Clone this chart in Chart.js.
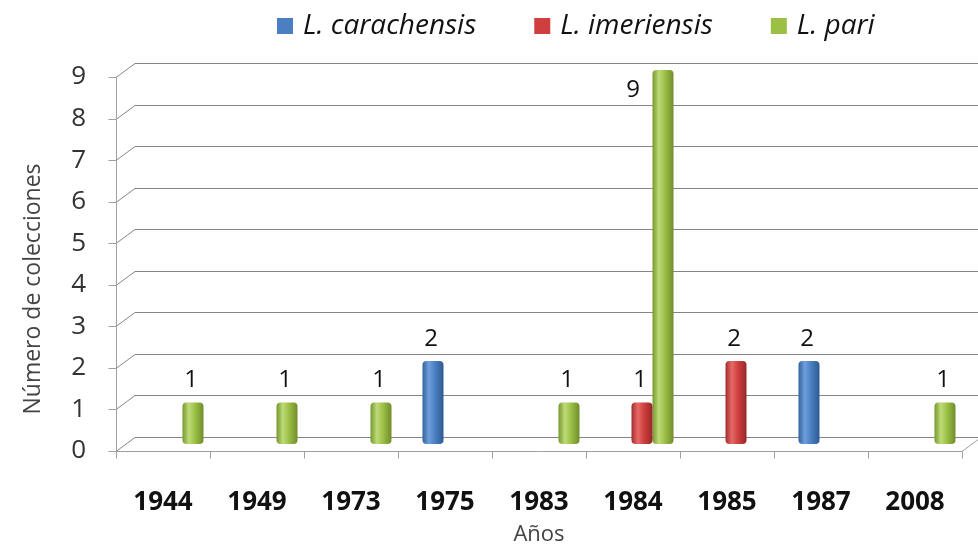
<!DOCTYPE html>
<html>
<head>
<meta charset="utf-8">
<script src="https://cdn.jsdelivr.net/npm/chart.js@4.4.1/dist/chart.umd.min.js"></script>
<style>
  html, body { margin: 0; padding: 0; background: #fff; }
  #wrap { width: 978px; height: 549px; }
</style>
</head>
<body>
<div id="wrap"><canvas id="chart"></canvas></div>
<script>
// Data
const years = ['1944', '1949', '1973', '1975', '1983', '1984', '1985', '1987', '2008'];
const carachensis = [null, null, null, 2, null, null, null, 2, null];
const imeriensis = [null, null, null, null, null, 1, 2, null, null];
const pari = [1, 1, 1, null, 1, 9, null, null, 1];
const seriesNames = ['L. carachensis', 'L. imeriensis', 'L. pari'];
const yMax = 9;

const colors = {
  green: '#9cbf45',
  grid: '#858585',
  front: '#a0a0a0'
};
// cylinder shading: dark edge, highlight, base, dark edge
const shades = [
  ['#32619c', '#6f9fdc', '#4a7fc1', '#2f5a92'],
  ['#a12c2c', '#e66a66', '#cf3f3f', '#962828'],
  ['#76972f', '#bddb78', '#9cbf45', '#6f8d2b']
];
const CAT_PCT = 0.67;

// fake 3D depth: back wall is up/right, front edge is down/left of the bars
const BX = 10, BY = 7, FX = 9, FY = 7;

function cylinderFill(c) {
  const chart = c.chart;
  const x = chart.scales.x;
  if (!x || !chart.chartArea) return colors.green;
  const n = chart.data.datasets.length;
  const barW = (x.width / years.length) * CAT_PCT / n;
  const cx = x.getPixelForValue(c.dataIndex) + (c.datasetIndex - (n - 1) / 2) * barW;
  const g = chart.ctx.createLinearGradient(cx - barW / 2, 0, cx + barW / 2, 0);
  const s = shades[c.datasetIndex];
  g.addColorStop(0, s[0]);
  g.addColorStop(0.3, s[1]);
  g.addColorStop(0.6, s[2]);
  g.addColorStop(1, s[3]);
  return g;
}

// Walls, gridlines and front axes
const wallPlugin = {
  id: 'wall',
  beforeDatasetsDraw(chart) {
    const { ctx, chartArea: a, scales: { x, y } } = chart;
    ctx.save();
    ctx.lineWidth = 1;
    ctx.strokeStyle = colors.grid;
    y.ticks.forEach(t => {
      const py = Math.round(y.getPixelForValue(t.value)) + 0.5;
      ctx.beginPath();
      ctx.moveTo(a.left - FX, py + FY);
      ctx.lineTo(a.left + BX, py - BY);
      ctx.lineTo(a.right + BX, py - BY);
      ctx.stroke();
    });
    ctx.strokeStyle = colors.front;
    const y0 = Math.round(y.getPixelForValue(0)) + 0.5;
    const yTop = Math.round(y.getPixelForValue(yMax)) + 0.5;
    const fx = Math.round(a.left - FX) + 0.5;
    ctx.beginPath();
    ctx.moveTo(fx, yTop + FY);
    ctx.lineTo(fx, y0 + FY);
    ctx.lineTo(a.right - FX, y0 + FY);
    ctx.lineTo(a.right + BX, y0 - BY);
    ctx.stroke();
    // y tick marks on the front axis
    y.ticks.forEach(t => {
      const py = Math.round(y.getPixelForValue(t.value)) + 0.5 + FY;
      ctx.beginPath();
      ctx.moveTo(fx - 8, py);
      ctx.lineTo(fx, py);
      ctx.stroke();
    });
    // x tick marks at category boundaries
    const step = x.width / years.length;
    for (let i = 0; i <= years.length; i++) {
      const px = Math.round(a.left - FX + i * step) + 0.5;
      ctx.beginPath();
      ctx.moveTo(px, y0 + FY);
      ctx.lineTo(px, y0 + FY + 7);
      ctx.stroke();
    }
    ctx.restore();
  }
};

// Value labels above bars, axis titles, legend
const textPlugin = {
  id: 'texts',
  afterDatasetsDraw(chart) {
    const { ctx, chartArea: a } = chart;
    ctx.save();
    ctx.font = '24px "Open Sans"';
    ctx.fillStyle = '#111';
    ctx.textAlign = 'center';
    ctx.textBaseline = 'middle';
    chart.data.datasets.forEach((ds, i) => {
      chart.getDatasetMeta(i).data.forEach((el, j) => {
        const v = ds.data[j];
        if (v === null) return;
        let lx = el.x - 2, ly = el.y - 22;
        if (ly - 12 < a.top) { lx = el.x - 30; ly = el.y + 20; }
        ctx.fillText(String(v), lx, ly);
      });
    });

    // axis titles
    ctx.fillStyle = '#444';
    ctx.font = '22px "Open Sans"';
    ctx.fillText('Años', (a.left + a.right) / 2 - FX, 535);
    ctx.save();
    ctx.translate(33, 289);
    ctx.rotate(-Math.PI / 2);
    ctx.font = '23px "Open Sans"';
    ctx.fillText('Número de colecciones', 0, 0);
    ctx.restore();

    // legend
    ctx.font = 'italic 28px "Open Sans"';
    ctx.textAlign = 'left';
    let lx = 277;
    const ly = 26;
    chart.data.datasets.forEach((ds, i) => {
      ctx.fillStyle = shades[i][2];
      ctx.fillRect(lx, ly - 8, 16, 16);
      ctx.fillStyle = '#111';
      ctx.fillText(ds.label, lx + 26, ly);
      lx += 26 + ctx.measureText(ds.label).width + 58;
    });
    ctx.restore();
  }
};

const barStyle = {
  backgroundColor: cylinderFill,
  borderWidth: 0,
  borderRadius: 4,
  borderSkipped: false,
  categoryPercentage: CAT_PCT,
  barPercentage: 1
};

new Chart(document.getElementById('chart'), {
  type: 'bar',
  data: {
    labels: years,
    datasets: [
      { label: seriesNames[0], data: carachensis, ...barStyle },
      { label: seriesNames[1], data: imeriensis, ...barStyle },
      { label: seriesNames[2], data: pari, ...barStyle }
    ]
  },
  options: {
    responsive: true,
    maintainAspectRatio: false,
    animation: false,
    layout: { padding: { top: 70, right: 7, left: 0, bottom: 0 } },
    plugins: {
      legend: { display: false },
      tooltip: { enabled: false }
    },
    scales: {
      x: {
        grid: { display: false, drawTicks: false },
        border: { display: false },
        ticks: {
          color: '#111',
          font: { family: 'Open Sans', size: 26, weight: 'bold' },
          padding: 43,
          labelOffset: -9,
          maxRotation: 0
        },
        afterFit: s => {
          s.height = 105;
          s.paddingLeft = 0;
          s.paddingRight = 0;
        }
      },
      y: {
        min: 0,
        max: yMax,
        grid: { display: false, drawTicks: false },
        border: { display: false },
        ticks: {
          stepSize: 1,
          color: '#333',
          font: { family: 'Open Sans', size: 26 },
          padding: 39,
          labelOffset: 7
        },
        afterFit: s => { s.width = 125; }
      }
    }
  },
  plugins: [wallPlugin, textPlugin]
});
</script>
</body>
</html>
